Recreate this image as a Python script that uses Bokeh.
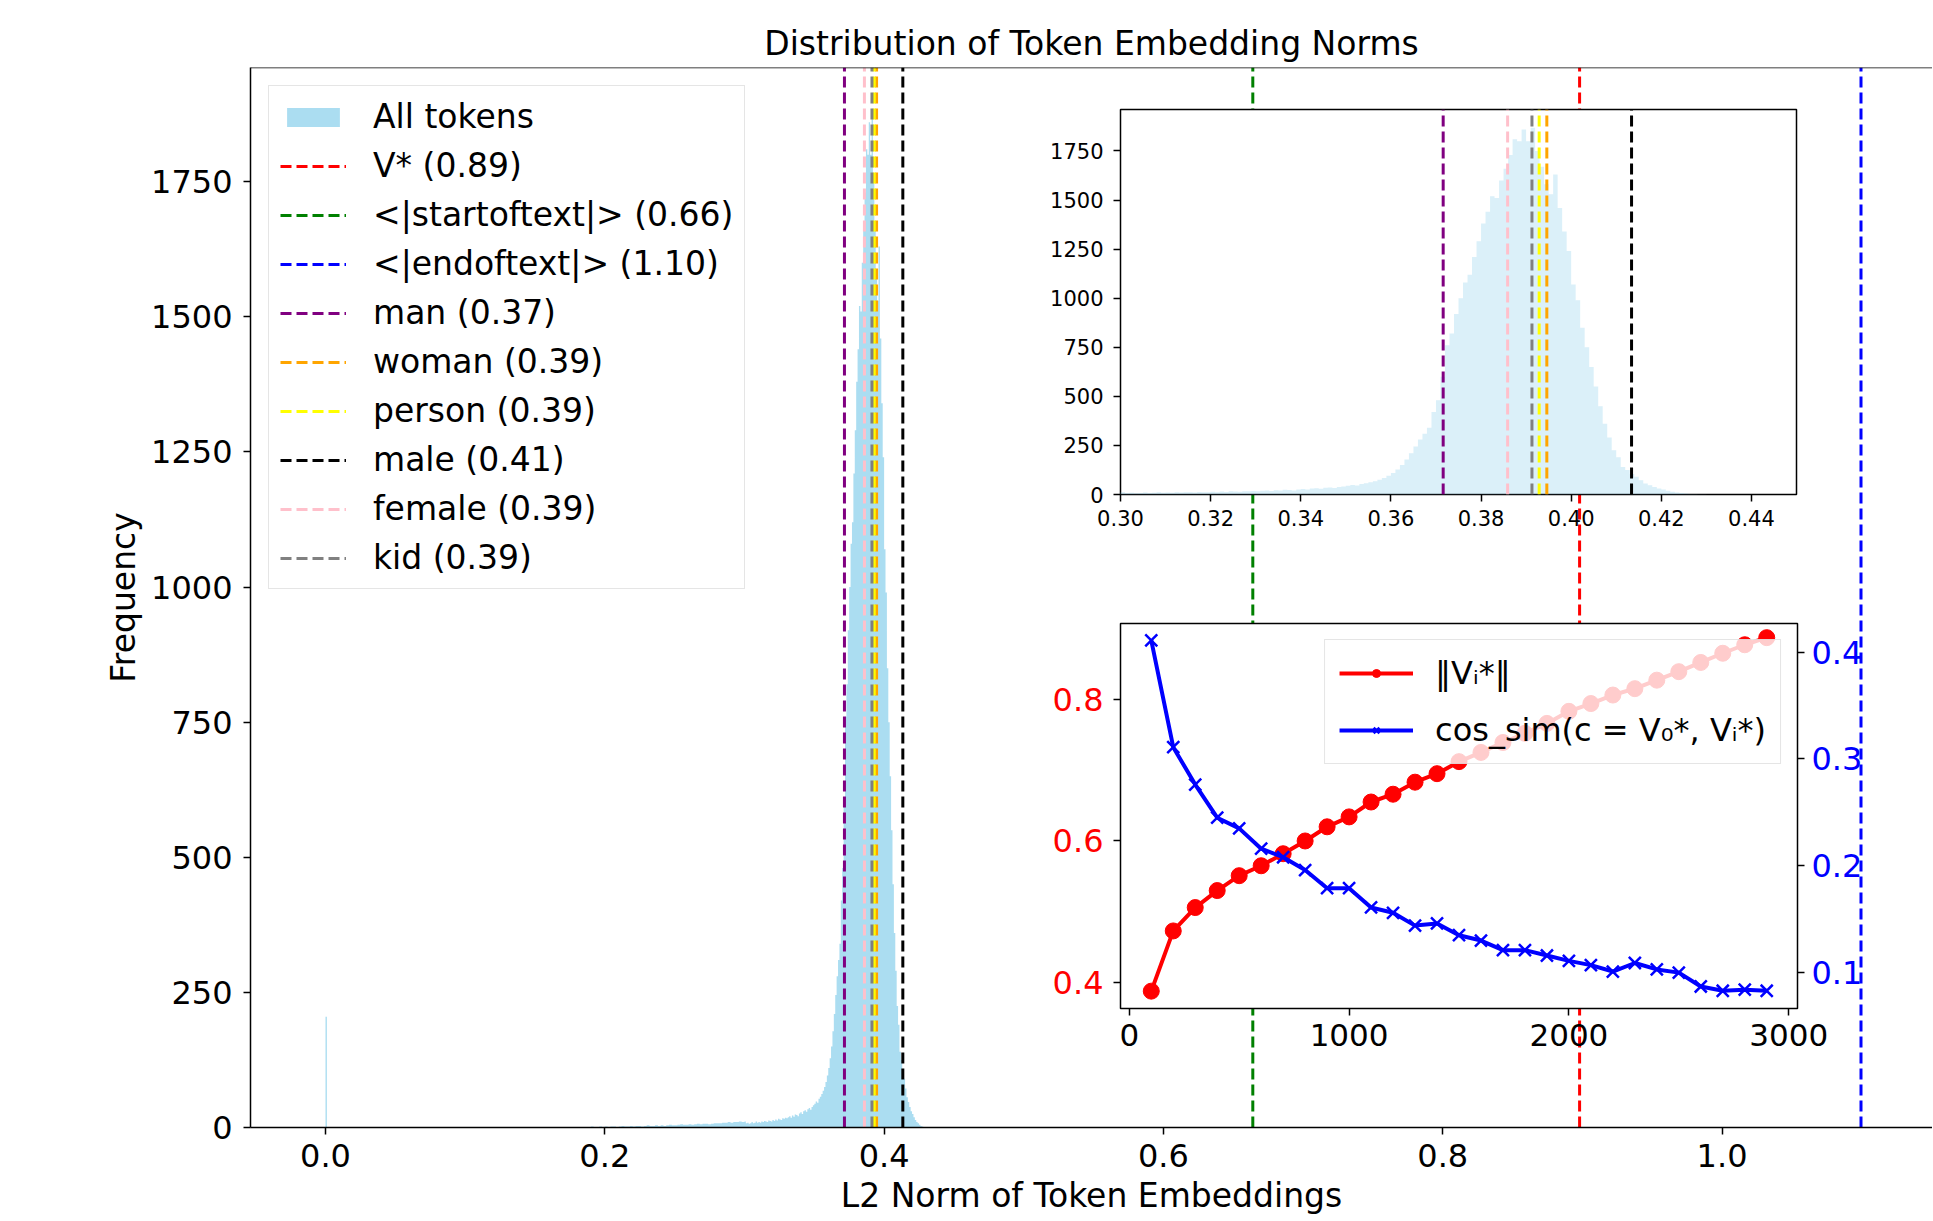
from bokeh.plotting import figure
from bokeh.models import (Range1d, LinearAxis, FixedTicker, NumeralTickFormatter, Span, GridBox, Column)
from bokeh.embed import file_html
from bokeh.resources import INLINE

FONT = "DejaVu Sans"

# ---------------- histogram data (counts per bin) ----------------
spike_left = 0.000
spike_width = 0.001
spike_count = 205

tail_start = 0.180
tail_width = 0.002
tail_counts = [0, 1, 0, 1, 1, 2, 1, 1, 2, 1,
               2, 1, 2, 2, 1, 2, 3, 2, 2, 3,
               2, 3, 3, 2, 3, 4, 3, 3, 4, 3,
               4, 3, 4, 5, 4, 4, 5, 6, 5, 5,
               6, 5, 6, 7, 6, 7, 7, 6, 7, 8,
               8, 8, 9, 9, 10, 9, 10, 10, 11, 10]

core_start = 0.300
core_width = 0.001
core_counts = [11, 8, 9, 7, 8, 10, 8, 9, 11, 9,
               10, 9, 11, 10, 12, 11, 10, 13, 12, 11,
               14, 12, 15, 13, 16, 15, 14, 17, 16, 18,
               17, 19, 21, 18, 22, 20, 24, 23, 21, 26,
               28, 25, 30, 32, 29, 34, 36, 33, 38, 41,
               44, 48, 46, 53, 57, 62, 68, 75, 84, 96,
               110, 128, 150, 178, 210, 245, 280, 310, 340, 420,
               480, 600, 760, 820, 920, 1000, 1080, 1120, 1210, 1290,
               1380, 1440, 1520, 1510, 1600, 1660, 1730, 1810, 1800, 1860,
               1800, 1868, 1750, 1670, 1580, 1530, 1630, 1460, 1340, 1240,
               1070, 990, 850, 750, 650, 550, 450, 360, 290, 225,
               190, 140, 125, 105, 90, 72, 56, 47, 38, 30,
               25, 19, 14, 10, 8, 5, 3, 2, 1, 1]

# ---------------- reference tokens ----------------
token_labels = ["V* (0.89)", "<|startoftext|> (0.66)", "<|endoftext|> (1.10)",
                "man (0.37)", "woman (0.39)", "person (0.39)", "male (0.41)",
                "female (0.39)", "kid (0.39)"]
token_norms = [0.898, 0.664, 1.0995, 0.3716, 0.3946, 0.3929, 0.4134, 0.3859, 0.3913]
token_colors = ["red", "green", "blue", "purple", "orange", "yellow", "black", "pink", "gray"]

# ---------------- inset 2 data ----------------
steps = [100, 200, 300, 400, 500, 600, 700, 800, 900, 1000,
         1100, 1200, 1300, 1400, 1500, 1600, 1700, 1800, 1900, 2000,
         2100, 2200, 2300, 2400, 2500, 2600, 2700, 2800, 2900]
norm_vals = [0.388, 0.473, 0.506, 0.530, 0.551, 0.565, 0.582, 0.600, 0.620, 0.634,
             0.655, 0.666, 0.683, 0.695, 0.712, 0.725, 0.739, 0.752, 0.766, 0.783,
             0.794, 0.806, 0.815, 0.827, 0.839, 0.852, 0.865, 0.877, 0.887]
cos_vals = [0.411, 0.311, 0.276, 0.245, 0.235, 0.216, 0.208, 0.196, 0.179, 0.179,
            0.161, 0.156, 0.144, 0.146, 0.135, 0.130, 0.121, 0.121, 0.116, 0.111,
            0.107, 0.101, 0.109, 0.103, 0.100, 0.087, 0.083, 0.084, 0.083]

main_xticks = [0.0, 0.2, 0.4, 0.6, 0.8, 1.0]
main_yticks = [0, 250, 500, 750, 1000, 1250, 1500, 1750]
inset_xticks = [0.30, 0.32, 0.34, 0.36, 0.38, 0.40, 0.42, 0.44]
step_ticks = [0, 1000, 2000, 3000]
norm_ticks = [0.4, 0.6, 0.8]
cos_ticks = [0.1, 0.2, 0.3, 0.4]

# ---------------- build step outline of histogram ----------------
hx = [spike_left, spike_left + spike_width]
hy = [spike_count, 0]
for i, c in enumerate(tail_counts):
    hx.append(tail_start + i * tail_width)
    hy.append(c)
for i, c in enumerate(core_counts):
    hx.append(core_start + i * core_width)
    hy.append(c)
hx.append(core_start + len(core_counts) * core_width)
hy.append(0)
hx.append(1.2)
hy.append(0)

ytop = max(core_counts) * 1.05


def style_axis(ax, size, color="black", standoff=10, tick_out=7):
    ax.major_label_text_font = FONT
    ax.major_label_text_font_size = size
    ax.major_label_text_color = color
    ax.major_tick_out = tick_out
    ax.major_tick_in = 0
    ax.minor_tick_out = 0
    ax.minor_tick_in = 0
    ax.major_label_standoff = standoff
    ax.major_tick_line_width = 1.5
    ax.major_tick_line_color = "black"
    ax.axis_line_width = 1.5
    ax.axis_line_color = "black"
    ax.axis_label_text_font = FONT
    ax.axis_label_text_font_style = "normal"
    ax.axis_label_text_color = "black"


# ================= main figure =================
p = figure(width=1932, height=1220, x_range=Range1d(-0.0537, 1.1507), y_range=Range1d(0, ytop),
           output_backend="svg", toolbar_location=None,
           min_border_left=250, min_border_right=0, min_border_top=67, min_border_bottom=93)
p.outline_line_color = None
p.xgrid.visible = False
p.ygrid.visible = False
p.background_fill_color = "white"

p.title.text = "Distribution of Token Embedding Norms"
p.title.text_font = FONT
p.title.text_font_size = "33px"
p.title.text_font_style = "normal"
p.title.text_color = "black"
p.title.align = "center"
p.title.standoff = 9

p.varea_step(x=hx, y1=0, y2=hy, step_mode="after", fill_color="skyblue", fill_alpha=0.7,
             legend_label="All tokens")
for lab, val, col in zip(token_labels, token_norms, token_colors):
    p.segment(x0=[val], y0=[0], x1=[val], y1=[ytop], line_color=col, line_width=3,
              line_dash="11 5", legend_label=lab)

p.add_layout(Span(location=ytop, dimension="width", line_color="black", line_width=1.5))

style_axis(p.xaxis[0], "32px", standoff=9)
style_axis(p.yaxis[0], "32px", standoff=11)
p.xaxis.ticker = FixedTicker(ticks=main_xticks)
p.xaxis.formatter = NumeralTickFormatter(format="0.0")
p.yaxis.ticker = FixedTicker(ticks=main_yticks)
p.xaxis.axis_label = "L2 Norm of Token Embeddings"
p.xaxis.axis_label_text_font_size = "33px"
p.xaxis.axis_label_standoff = 6
p.yaxis.axis_label = "Frequency"
p.yaxis.axis_label_text_font_size = "33px"
p.yaxis.axis_label_standoff = 5

lg = p.legend[0]
lg.location = "top_left"
lg.margin = 18
lg.padding = 11
lg.spacing = 10
lg.glyph_width = 66
lg.glyph_height = 24
lg.label_standoff = 27
lg.label_text_font = FONT
lg.label_text_font_size = "33px"
lg.label_text_color = "black"
lg.border_line_color = "#cccccc"
lg.border_line_width = 1.5
lg.background_fill_alpha = 0.8

# ================= inset 1: zoomed histogram =================
ins1 = figure(width=761, height=430, x_range=Range1d(0.30, 0.45), y_range=Range1d(0, ytop),
              output_backend="svg", toolbar_location=None,
              min_border_left=80, min_border_right=5, min_border_top=5, min_border_bottom=40)
ins1.background_fill_color = "white"
ins1.border_fill_color = None
ins1.outline_line_color = "black"
ins1.outline_line_width = 1.5
ins1.xgrid.visible = False
ins1.ygrid.visible = False
ins1.varea_step(x=hx, y1=0, y2=hy, step_mode="after", fill_color="skyblue", fill_alpha=0.3)
for val, col in zip(token_norms[3:], token_colors[3:]):
    ins1.segment(x0=[val], y0=[0], x1=[val], y1=[ytop], line_color=col, line_width=3,
                 line_dash="11 5")
style_axis(ins1.xaxis[0], "21px", standoff=8)
style_axis(ins1.yaxis[0], "21px", standoff=10)
ins1.xaxis.axis_line_color = None
ins1.yaxis.axis_line_color = None
ins1.xaxis.ticker = FixedTicker(ticks=inset_xticks)
ins1.xaxis.formatter = NumeralTickFormatter(format="0.00")
ins1.yaxis.ticker = FixedTicker(ticks=main_yticks)

# ================= inset 2: norm and cosine similarity =================
ins2 = figure(width=847, height=440, x_range=Range1d(-40, 3040), y_range=Range1d(0.3635, 0.907),
              output_backend="svg", toolbar_location=None,
              min_border_left=85, min_border_right=85, min_border_top=5, min_border_bottom=50)
ins2.background_fill_color = "white"
ins2.border_fill_color = None
ins2.outline_line_color = "black"
ins2.outline_line_width = 1.5
ins2.xgrid.visible = False
ins2.ygrid.visible = False
ins2.extra_y_ranges = {"cos": Range1d(0.0664, 0.4268)}

norm_lab = "\u2016V\u1d62*\u2016"
cos_lab = "cos_sim(c = V\u2080*, V\u1d62*)"
ins2.line(steps, norm_vals, line_color="red", line_width=4, legend_label=norm_lab)
ins2.scatter(steps, norm_vals, marker="circle", size=16, fill_color="red", line_color="red",
             legend_label=norm_lab)
ins2.line(steps, cos_vals, line_color="blue", line_width=4, y_range_name="cos", legend_label=cos_lab)
ins2.scatter(steps, cos_vals, marker="x", size=17, line_color="blue", line_width=2.5,
             y_range_name="cos", legend_label=cos_lab)

right_ax = LinearAxis(y_range_name="cos")
ins2.add_layout(right_ax, "right")

style_axis(ins2.xaxis[0], "31px", standoff=8)
style_axis(ins2.yaxis[0], "32px", color="red", standoff=10)
style_axis(right_ax, "32px", color="blue", standoff=7)
for ax in (ins2.xaxis[0], ins2.yaxis[0], right_ax):
    ax.axis_line_color = None
ins2.xaxis[0].ticker = FixedTicker(ticks=step_ticks)
ins2.yaxis[0].ticker = FixedTicker(ticks=norm_ticks)
ins2.yaxis[0].formatter = NumeralTickFormatter(format="0.0")
right_ax.ticker = FixedTicker(ticks=cos_ticks)
right_ax.formatter = NumeralTickFormatter(format="0.0")

lg2 = ins2.legend[0]
lg2.location = "top_right"
lg2.margin = 16
lg2.padding = 14
lg2.spacing = 19
lg2.glyph_width = 74
lg2.label_standoff = 22
lg2.label_text_font = FONT
lg2.label_text_font_size = "32px"
lg2.label_text_color = "black"
lg2.border_line_color = "#cccccc"
lg2.border_line_width = 1.5
lg2.background_fill_alpha = 0.8

# wrap each plot so the grid does not align their frames, then overlap them
box_main = Column(children=[p])
box1 = Column(children=[ins1], margin=(104, 0, 0, 1040))
box2 = Column(children=[ins2], margin=(618, 0, 0, 1035))

layout = GridBox(children=[(box_main, 0, 0), (box1, 0, 0), (box2, 0, 0)])

open("out.html", "w").write(file_html(layout, INLINE))
